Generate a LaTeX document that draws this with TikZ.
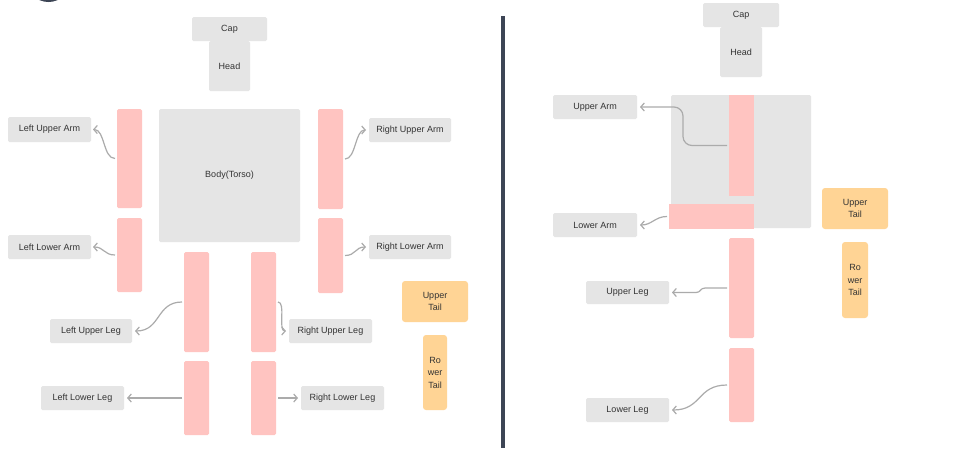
\documentclass[tikz,border=0pt]{standalone}
\usepackage{fontspec}
\setmainfont{Liberation Sans}
\usetikzlibrary{arrows.meta}
\definecolor{boxgrey}{HTML}{E5E5E5}
\definecolor{barpink}{HTML}{FFC4C1}
\definecolor{tailorange}{HTML}{FFD495}
\definecolor{conngrey}{HTML}{ABABAB}
\definecolor{txt}{HTML}{333333}
\definecolor{divider}{HTML}{3D4555}
\tikzset{
  base/.style={inner sep=0pt, outer sep=0pt, text=txt, font=\fontsize{9}{12.5}\selectfont, align=center},
  gbox/.style={base, fill=boxgrey, rounded corners=1.5pt},
  pbar/.style={base, fill=barpink, rounded corners=1.5pt},
  tailbox/.style={base, fill=tailorange, rounded corners=3pt},
  conn/.style={draw=conngrey, line width=1.2pt, -{Straight Barb[length=3.5pt,width=8pt]}},
}
% \bx{style}{name}{x1}{y1}{x2}{y2}{text}
\newcommand\bx[7]{%
  \pgfmathsetmacro\bxcx{(#3+#5)/2}%
  \pgfmathsetmacro\bxcy{(#4+#6)/2}%
  \pgfmathsetmacro\bxw{#5-#3}%
  \pgfmathsetmacro\bxh{#6-#4}%
  \node[#1, minimum width=\bxw pt, minimum height=\bxh pt] (#2) at (\bxcx,\bxcy) {#7};%
}
\begin{document}
\begin{tikzpicture}[x=1pt,y=-1pt]
\useasboundingbox (0,0) rectangle (963,448);
\fill[white] (0,0) rectangle (963,448);
\begin{scope}
\clip (0,0) rectangle (963,448);
\fill[divider] (48.5,-20) circle (22);
\end{scope}
\fill[divider] (501,16) rectangle (505,448);

% ---------- left diagram ----------
\bx{gbox}{capL}{192}{17}{267}{41}{Cap}
\bx{gbox}{headL}{209}{41}{250}{91}{Head}
\bx{gbox}{bodyL}{159}{109}{300}{242}{Body(Torso)}
\bx{pbar}{luaBar}{117}{109}{142}{208}{}
\bx{pbar}{llaBar}{117}{218}{142}{292}{}
\bx{pbar}{ruaBar}{318}{109}{343}{209}{}
\bx{pbar}{rlaBar}{318}{218}{343}{293}{}
\bx{pbar}{lulBar}{184}{252}{209}{352}{}
\bx{pbar}{rulBar}{251}{252}{276}{352}{}
\bx{pbar}{lllBar}{184}{361}{209}{435}{}
\bx{pbar}{rllBar}{251}{361}{276}{435}{}
\bx{gbox}{luaLab}{8}{117}{91}{142}{Left Upper Arm}
\bx{gbox}{llaLab}{8}{235}{91}{259}{Left Lower Arm}
\bx{gbox}{ruaLab}{369}{118}{451}{142}{Right Upper Arm}
\bx{gbox}{rlaLab}{369}{235}{451}{259}{Right Lower Arm}
\bx{gbox}{lulLab}{50}{319}{132}{343}{Left Upper Leg}
\bx{gbox}{rulLab}{289}{319}{372}{343}{Right Upper Leg}
\bx{gbox}{lllLab}{41}{386}{124}{410}{Left Lower Leg}
\bx{gbox}{rllLab}{301}{386}{384}{410}{Right Lower Leg}
\bx{tailbox}{utL}{402}{281}{468}{322}{Upper\\Tail}
\bx{tailbox}{ltL}{423}{335}{447}{410}{Ro\\wer\\Tail}

\draw[conn] ([xshift=-2pt]luaBar.west) .. controls +(-12,0) and +(12,0) .. ([xshift=2pt]luaLab.east);
\draw[conn] ([xshift=-2pt]llaBar.west) .. controls +(-11,0) and +(11,0) .. ([xshift=2pt]llaLab.east);
\draw[conn] ([xshift=-2pt]lulBar.west) .. controls +(-26,0) and +(26,0) .. ([xshift=3pt]lulLab.east);
\draw[conn] ([xshift=-2pt]lllBar.west) -- ([xshift=3pt]lllLab.east);
\draw[conn] ([xshift=2pt]rulBar.east) .. controls +(8,0) and +(-8,0) .. ([xshift=-3pt]rulLab.west);
\draw[conn] ([xshift=2pt]rllBar.east) -- ([xshift=-3pt]rllLab.west);
\draw[conn] ([xshift=2pt]ruaBar.east) .. controls +(11,0) and +(-11,0) .. ([xshift=-3pt]ruaLab.west);
\draw[conn] ([xshift=2pt]rlaBar.east) .. controls +(11,0) and +(-11,0) .. ([xshift=-3pt]rlaLab.west);

% ---------- right diagram ----------
\bx{gbox}{capR}{703}{3}{779}{27}{Cap}
\bx{gbox}{headR}{720}{27}{762}{77}{Head}
\bx{gbox}{bodyR}{671}{95}{811}{228}{}
\bx{pbar, rounded corners=0pt}{uaBar}{729}{95}{754}{196}{}
\bx{pbar, rounded corners=0pt}{laBar}{669}{204}{754}{229}{}
\bx{pbar}{ulBar}{729}{238}{754}{338}{}
\bx{pbar}{llBar}{729}{348}{754}{422}{}
\bx{gbox}{uaLab}{553}{95}{637}{119}{Upper Arm}
\bx{gbox}{laLab}{553}{213}{637}{237}{Lower Arm}
\bx{gbox}{ulLab}{586}{281}{669}{304}{Upper Leg}
\bx{gbox}{llLab}{586}{398}{669}{422}{Lower Leg}
\bx{tailbox}{utR}{822}{188}{888}{229}{Upper\\Tail}
\bx{tailbox}{ltR}{842}{242}{868}{318}{Ro\\wer\\Tail}

\draw[conn, rounded corners=9pt] ([xshift=-2pt]uaBar.west) -| ([xshift=46pt]uaLab.east) -- ([xshift=3pt]uaLab.east);
\draw[conn] ([xshift=-2pt]laBar.west) .. controls +(-12,0) and +(12,0) .. ([xshift=3pt]laLab.east);
\draw[conn] ([xshift=-2pt]ulBar.west) -- ([xshift=-24pt]ulBar.west) .. controls +(-5,0) and +(5,0) .. ([xshift=-33pt,yshift=-4.5pt]ulBar.west) -- ([xshift=3pt]ulLab.east);
\draw[conn] ([xshift=-2pt]llBar.west) .. controls +(-30,0) and +(30,0) .. ([xshift=3pt]llLab.east);
\end{tikzpicture}
\end{document}
